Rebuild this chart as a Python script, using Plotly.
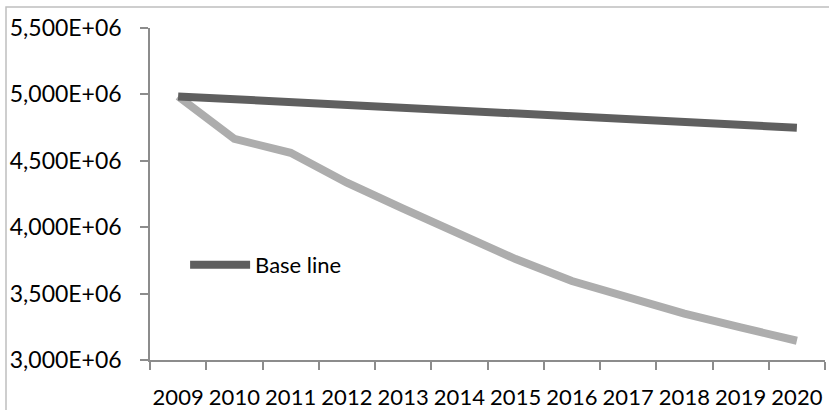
import plotly.graph_objects as go

years = ["2009", "2010", "2011", "2012", "2013", "2014", "2015", "2016", "2017", "2018", "2019", "2020"]
base_line = [4.985e6, 4.963e6, 4.942e6, 4.920e6, 4.899e6, 4.877e6, 4.856e6, 4.834e6, 4.813e6, 4.792e6, 4.770e6, 4.749e6]
scenario = [4.985e6, 4.665e6, 4.560e6, 4.335e6, 4.140e6, 3.950e6, 3.760e6, 3.595e6, 3.465e6, 3.350e6, 3.245e6, 3.145e6]
y_tickvals = [3.0e6, 3.5e6, 4.0e6, 4.5e6, 5.0e6, 5.5e6]
y_ticktext = ["3,000E+06", "3,500E+06", "4,000E+06", "4,500E+06", "5,000E+06", "5,500E+06"]

fig = go.Figure()
fig.add_trace(go.Scatter(x=years, y=scenario, mode="lines", name="Scenario",
                         showlegend=False,
                         line=dict(color="#adadad", width=8)))
fig.add_trace(go.Scatter(x=years, y=base_line, mode="lines", name="Base line",
                         line=dict(color="#5f5f5f", width=8)))

axis_col = "#8c8c8c"
fig.update_layout(
    width=829, height=410,
    margin=dict(l=150, r=4, t=28, b=50, autoexpand=False),
    paper_bgcolor="white", plot_bgcolor="white",
    font=dict(family="Lato", size=22, color="black"),
    showlegend=True,
    legend=dict(x=0.052, y=0.286, xanchor="left", yanchor="middle",
                bgcolor="rgba(0,0,0,0)", font=dict(size=22),
                itemwidth=60),
    xaxis=dict(type="category", range=[-0.5, 11.5], automargin=False,
               showline=True, linecolor=axis_col, linewidth=1.5,
               ticks="outside", tickson="boundaries", ticklen=8,
               tickcolor=axis_col, tickwidth=1.5, tickangle=0,
               showgrid=False, zeroline=False,
               tickfont=dict(size=22), ticklabelstandoff=17),
    yaxis=dict(range=[3.0e6, 5.5e6], tickvals=y_tickvals, ticktext=y_ticktext,
               automargin=False,
               showline=True, linecolor=axis_col, linewidth=1.5,
               ticks="outside", ticklen=8, tickcolor=axis_col, tickwidth=1.5,
               showgrid=False, zeroline=False, ticklabelstandoff=14,
               tickfont=dict(size=23)),
    shapes=[dict(type="rect", xref="paper", yref="paper",
                 x0=-144/675, x1=1.2, y0=-0.5, y1=1 + 21/332,
                 line=dict(color="#bfbfbf", width=1.5), fillcolor="rgba(0,0,0,0)",
                 layer="above")],
)

fig.write_html("out.html", config={"displayModeBar": False},
               post_script="document.body.style.margin='0';document.body.style.overflow='hidden';")
